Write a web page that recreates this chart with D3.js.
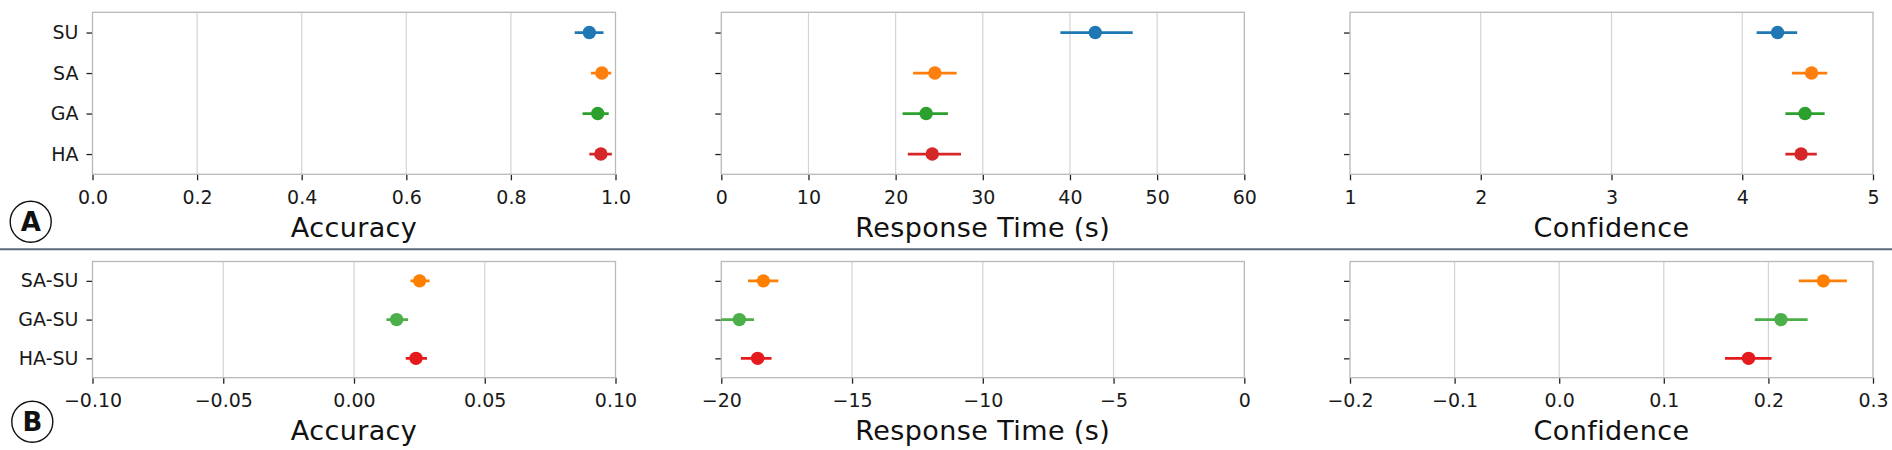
<!DOCTYPE html>
<html>
<head>
<meta charset="utf-8">
<script src="https://cdn.jsdelivr.net/npm/d3@7"></script>
<style>
  html, body { margin: 0; padding: 0; background: #fff; }
  text { font-family: "DejaVu Sans", sans-serif; }
</style>
</head>
<body>
<div id="wrapper"></div>
<script>
// ---- data ----
const topCats = ["SU", "SA", "GA", "HA"];
const topColors = ["#1f77b4", "#ff7f0e", "#2ca02c", "#d62728"];

const accMean = [0.950, 0.974, 0.966, 0.972];
const accLo = [0.922, 0.953, 0.937, 0.950];
const accHi = [0.977, 0.992, 0.987, 0.993];

const rtMean = [42.9, 24.5, 23.5, 24.2];
const rtLo = [38.9, 22.0, 20.8, 21.4];
const rtHi = [47.2, 27.0, 26.0, 27.5];

const confMean = [4.27, 4.53, 4.48, 4.45];
const confLo = [4.11, 4.38, 4.33, 4.33];
const confHi = [4.42, 4.65, 4.63, 4.57];

const diffCats = ["SA-SU", "GA-SU", "HA-SU"];
const diffColors = ["#ff7f00", "#4daf4a", "#e41a1c"];

const dAccMean = [0.0251, 0.0163, 0.0237];
const dAccLo = [0.0216, 0.0124, 0.0198];
const dAccHi = [0.0289, 0.0207, 0.0279];

const dRtMean = [-18.39, -19.31, -18.61];
const dRtLo = [-18.98, -20.1, -19.25];
const dRtHi = [-17.82, -18.75, -18.08];

const dConfMean = [0.2525, 0.212, 0.181];
const dConfLo = [0.229, 0.187, 0.1585];
const dConfHi = [0.275, 0.2375, 0.203];

const xLabels = ["Accuracy", "Response Time (s)", "Confidence"];

// ---- layout ----
const width = 1892, height = 450;
const panelLefts = [92.5, 721.3, 1350];
const panelWidth = 523;
const rows = [
  { top: 12.3, bottom: 174.3, labelY: 237, letter: "A", letterY: 221.7 },
  { top: 261.5, bottom: 377.7, labelY: 439.5, letter: "B", letterY: 421.7 },
];

const svg = d3.select("#wrapper")
  .append("svg")
  .attr("width", width)
  .attr("height", height);

let clipId = 0;

function drawPanel(row, col, cfg) {
  const x0 = panelLefts[col];
  const x = d3.scaleLinear()
    .domain(cfg.domain)
    .range([x0, x0 + panelWidth]);
  const y = d3.scalePoint()
    .domain(cfg.cats)
    .range([row.top, row.bottom])
    .padding(0.5);

  const g = svg.append("g");

  // vertical grid
  g.append("g")
    .selectAll("line")
    .data(cfg.ticks.slice(1, -1))
    .enter()
    .append("line")
    .attr("x1", (d) => x(d))
    .attr("x2", (d) => x(d))
    .attr("y1", row.top)
    .attr("y2", row.bottom)
    .attr("stroke", "#d4d4d4")
    .attr("stroke-width", 1.2);

  // x axis
  const xAxis = g.append("g")
    .attr("transform", `translate(0,${row.bottom})`)
    .call(d3.axisBottom(x)
      .tickValues(cfg.ticks)
      .tickFormat(d3.format(cfg.fmt))
      .tickSize(6)
      .tickPadding(10));
  xAxis.select(".domain").remove();
  xAxis.selectAll(".tick line").attr("stroke", "#222").attr("stroke-width", 1.3);
  xAxis.selectAll(".tick text")
    .attr("fill", "#1a1a1a")
    .style("font-size", "19px")
    .style("font-family", "DejaVu Sans, sans-serif");

  // y axis
  const yAxis = g.append("g")
    .attr("transform", `translate(${x0},0)`)
    .call(d3.axisLeft(y)
      .tickSize(6)
      .tickPadding(8)
      .tickFormat(col === 0 ? (d) => d : () => ""));
  yAxis.select(".domain").remove();
  yAxis.selectAll(".tick line").attr("stroke", "#222").attr("stroke-width", 1.3);
  yAxis.selectAll(".tick text")
    .attr("fill", "#1a1a1a")
    .style("font-size", "19px")
    .style("font-family", "DejaVu Sans, sans-serif");

  // frame
  g.append("rect")
    .attr("x", x0)
    .attr("y", row.top)
    .attr("width", panelWidth)
    .attr("height", row.bottom - row.top)
    .attr("fill", "none")
    .attr("stroke", "#b9b9b9")
    .attr("stroke-width", 1.3);

  // clip for marks
  const id = "clip" + clipId++;
  svg.append("clipPath")
    .attr("id", id)
    .append("rect")
    .attr("x", x0)
    .attr("y", row.top)
    .attr("width", panelWidth)
    .attr("height", row.bottom - row.top);

  const marks = g.append("g").attr("clip-path", `url(#${id})`);
  const data = cfg.cats.map((c, i) => ({
    cat: c,
    mean: cfg.mean[i],
    lo: cfg.lo[i],
    hi: cfg.hi[i],
    color: cfg.colors[i],
  }));

  marks.selectAll("line.err")
    .data(data)
    .enter()
    .append("line")
    .classed("err", true)
    .attr("x1", (d) => x(d.lo))
    .attr("x2", (d) => x(d.hi))
    .attr("y1", (d) => y(d.cat))
    .attr("y2", (d) => y(d.cat))
    .attr("stroke", (d) => d.color)
    .attr("stroke-width", 2.7);

  marks.selectAll("circle")
    .data(data)
    .enter()
    .append("circle")
    .attr("cx", (d) => x(d.mean))
    .attr("cy", (d) => y(d.cat))
    .attr("r", 6.7)
    .attr("fill", (d) => d.color);

  // axis label
  g.append("text")
    .attr("x", x0 + panelWidth / 2)
    .attr("y", row.labelY)
    .attr("text-anchor", "middle")
    .attr("fill", "#111")
    .style("font-size", "27px")
    .style("letter-spacing", "0.4px")
    .text(xLabels[col]);
}

const topPanels = [
  { domain: [0, 1], ticks: [0, 0.2, 0.4, 0.6, 0.8, 1.0], fmt: ".1f", mean: accMean, lo: accLo, hi: accHi },
  { domain: [0, 60], ticks: [0, 10, 20, 30, 40, 50, 60], fmt: "d", mean: rtMean, lo: rtLo, hi: rtHi },
  { domain: [1, 5], ticks: [1, 2, 3, 4, 5], fmt: "d", mean: confMean, lo: confLo, hi: confHi },
];
const bottomPanels = [
  { domain: [-0.1, 0.1], ticks: [-0.1, -0.05, 0, 0.05, 0.1], fmt: ".2f", mean: dAccMean, lo: dAccLo, hi: dAccHi },
  { domain: [-20, 0], ticks: [-20, -15, -10, -5, 0], fmt: "d", mean: dRtMean, lo: dRtLo, hi: dRtHi },
  { domain: [-0.2, 0.3], ticks: [-0.2, -0.1, 0, 0.1, 0.2, 0.3], fmt: ".1f", mean: dConfMean, lo: dConfLo, hi: dConfHi },
];

topPanels.forEach((p, i) =>
  drawPanel(rows[0], i, Object.assign({ cats: topCats, colors: topColors }, p)));
bottomPanels.forEach((p, i) =>
  drawPanel(rows[1], i, Object.assign({ cats: diffCats, colors: diffColors }, p)));

// divider between A and B
svg.append("line")
  .attr("x1", 0)
  .attr("x2", width)
  .attr("y1", 249.3)
  .attr("y2", 249.3)
  .attr("stroke", "#5b6b7c")
  .attr("stroke-width", 2);

// panel letters
rows.forEach((row) => {
  const cx = row.letter === "A" ? 30.7 : 32.3;
  svg.append("circle")
    .attr("cx", cx)
    .attr("cy", row.letterY)
    .attr("r", 20.5)
    .attr("fill", "none")
    .attr("stroke", "#111")
    .attr("stroke-width", 1.4);
  svg.append("text")
    .attr("x", cx)
    .attr("y", row.letterY + 9.5)
    .attr("text-anchor", "middle")
    .attr("fill", "#111")
    .style("font-size", "26px")
    .style("font-weight", "bold")
    .text(row.letter);
});
</script>
</body>
</html>
